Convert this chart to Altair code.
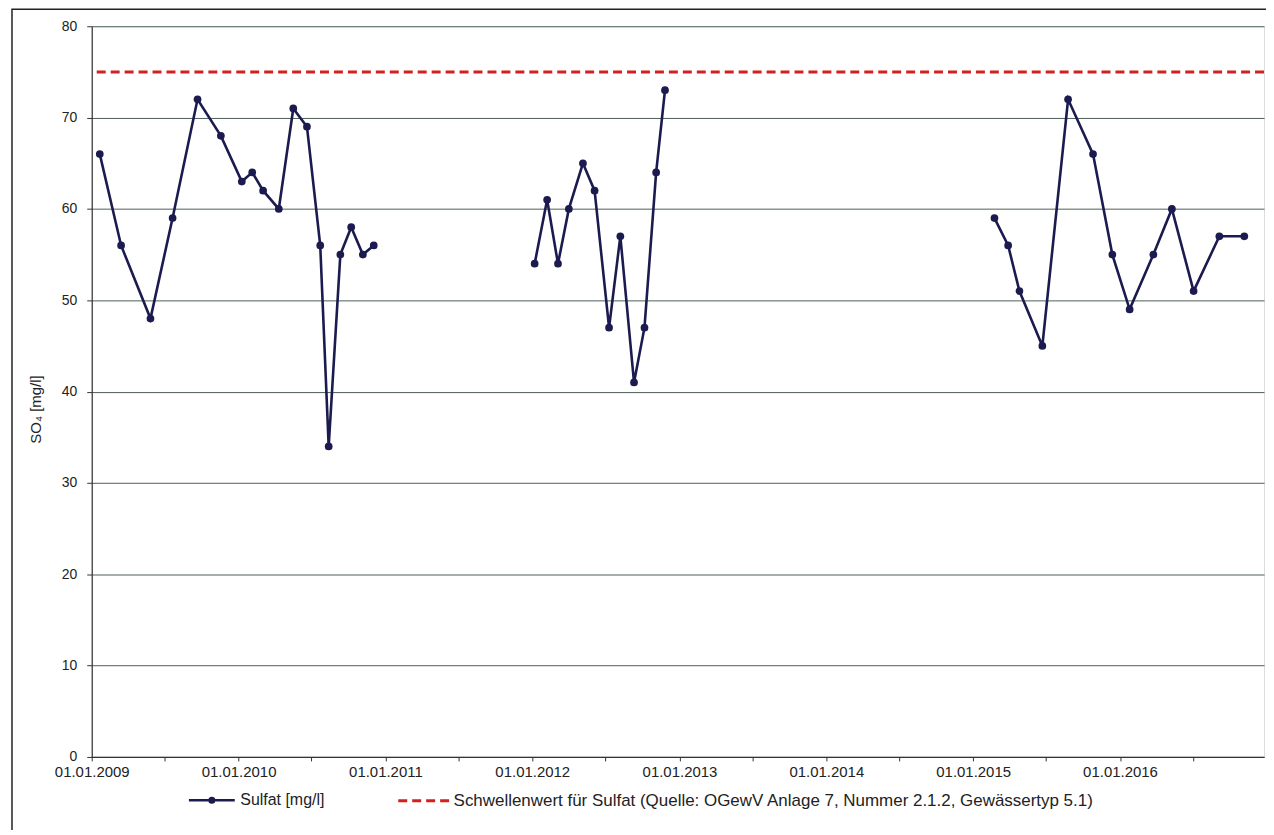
import altair as alt
import pandas as pd

# ---- data ----
dates_a = ["2009-01-21", "2009-03-15", "2009-05-27", "2009-07-21", "2009-09-21", "2009-11-18",
           "2010-01-09", "2010-02-04", "2010-03-03", "2010-04-11", "2010-05-17", "2010-06-20",
           "2010-07-23", "2010-08-13", "2010-09-11", "2010-10-08", "2010-11-06", "2010-12-03"]
values_a = [66, 56, 48, 59, 72, 68, 63, 64, 62, 60, 71, 69, 56, 34, 55, 58, 55, 56]

dates_b = ["2012-01-07", "2012-02-07", "2012-03-05", "2012-04-01", "2012-05-06", "2012-06-04",
           "2012-07-10", "2012-08-07", "2012-09-10", "2012-10-06", "2012-11-04", "2012-11-26"]
values_b = [54, 61, 54, 60, 65, 62, 47, 57, 41, 47, 64, 73]

dates_c = ["2015-02-23", "2015-03-29", "2015-04-26", "2015-06-22", "2015-08-25", "2015-10-26",
           "2015-12-13", "2016-01-25", "2016-03-24", "2016-05-09", "2016-07-02", "2016-09-04",
           "2016-11-05"]
values_c = [59, 56, 51, 45, 72, 66, 55, 49, 55, 60, 51, 57, 57]

threshold_value = [75]
sulfat_label = "Sulfat [mg/l]"
threshold_label = "Schwellenwert für Sulfat (Quelle: OGewV Anlage 7, Nummer 2.1.2, Gewässertyp 5.1)"
y_ticks = [0, 10, 20, 30, 40, 50, 60, 70, 80]
tick_years = list(range(2009, 2017))
tick_months = [1, 7]

NAVY = "#1b1b4f"
RED = "#d41f1f"
FONT = "Liberation Sans"
TXT = "#222222"

frames = []
for seg, (d, v) in enumerate([(dates_a, values_a), (dates_b, values_b), (dates_c, values_c)]):
    frames.append(pd.DataFrame({"date": pd.to_datetime(d), "value": v, "segment": seg}))
df = pd.concat(frames, ignore_index=True)
df["series"] = sulfat_label

thr = pd.DataFrame({"value": threshold_value, "series": [threshold_label]})

x_scale = alt.Scale(domain=[alt.DateTime(year=2009, month=1, date=1),
                            alt.DateTime(year=2016, month=12, date=24)])
y_scale = alt.Scale(domain=[0, 80], nice=False)

x_axis = alt.Axis(
    values=[alt.DateTime(year=y, month=m, date=1) for y in tick_years for m in tick_months],
    labelExpr="month(datum.value) == 0 ? timeFormat(datum.value, '%d.%m.%Y') : ''",
    grid=False, tickSize=4, tickColor="#333333", domainColor="#333333", domainWidth=1.2,
    labelFont=FONT, labelFontSize=15, labelColor=TXT, labelPadding=4,
    labelFlush=False, labelOverlap=False, labelAngle=0, title=None,
)
y_axis = alt.Axis(
    values=y_ticks, grid=True, gridColor="#4d5f59", gridWidth=1,
    tickSize=5, tickColor="#333333", domainColor="#333333", domainWidth=1.2,
    labelFont=FONT, labelFontSize=14, labelColor=TXT, labelPadding=10,
    title="SO₄ [mg/l]", titleFont=FONT, titleFontSize=15, titleFontWeight="normal",
    titleColor=TXT, titleX=-48, titleY=384,
)

sulfat_symbol = ("M-1,0L1,0M-0.1,0A0.1,0.1,0,1,0,0.1,0A0.1,0.1,0,1,0,-0.1,0"
                 "M-0.04,0A0.04,0.04,0,1,0,0.04,0A0.04,0.04,0,1,0,-0.04,0")

line = alt.Chart(df).mark_line(
    strokeWidth=2.6, point=alt.OverlayMarkDef(filled=True, size=60, opacity=1)
).encode(
    x=alt.X("date:T", scale=x_scale, axis=x_axis),
    y=alt.Y("value:Q", scale=y_scale, axis=y_axis),
    detail="segment:N",
    color=alt.Color("series:N", scale=alt.Scale(domain=[sulfat_label], range=[NAVY]),
                    legend=alt.Legend(orient="none", legendX=96, legendY=752, title=None,
                                      symbolType=sulfat_symbol, symbolSize=2116,
                                      symbolStrokeWidth=2.5, symbolFillColor=NAVY,
                                      labelFont=FONT, labelFontSize=16, labelColor=TXT,
                                      labelOffset=4, labelLimit=0, padding=0)),
)

rule = alt.Chart(thr).mark_rule(strokeWidth=3, strokeDash=[9, 5]).encode(
    y=alt.Y("value:Q", scale=y_scale),
    color=alt.Color("series:N", scale=alt.Scale(domain=[threshold_label], range=[RED]),
                    legend=alt.Legend(orient="none", legendX=306, legendY=750, title=None,
                                      symbolType="stroke", symbolSize=2601,
                                      symbolStrokeWidth=3, symbolDash=[9, 5],
                                      labelFont=FONT, labelFontSize=17, labelColor=TXT,
                                      labelOffset=3, labelLimit=0, padding=0)),
)

frame = alt.Chart(pd.DataFrame({"k": [0]})).mark_rect(
    filled=False, stroke="#222222", strokeWidth=1.5
).encode(x=alt.value(-80), x2=alt.value(1400), y=alt.value(-17), y2=alt.value(900))

chart = alt.layer(frame, rule, line).resolve_scale(color="independent").properties(
    width=1176, height=733,
    autosize=alt.AutoSizeParams(type="none"),
    padding={"left": 84, "top": 17, "right": 2, "bottom": 72},
).configure_view(stroke="#8a8a8a", strokeWidth=1).configure(background="white")

chart.save("out.html", embed_options={"renderer": "svg", "actions": False})
